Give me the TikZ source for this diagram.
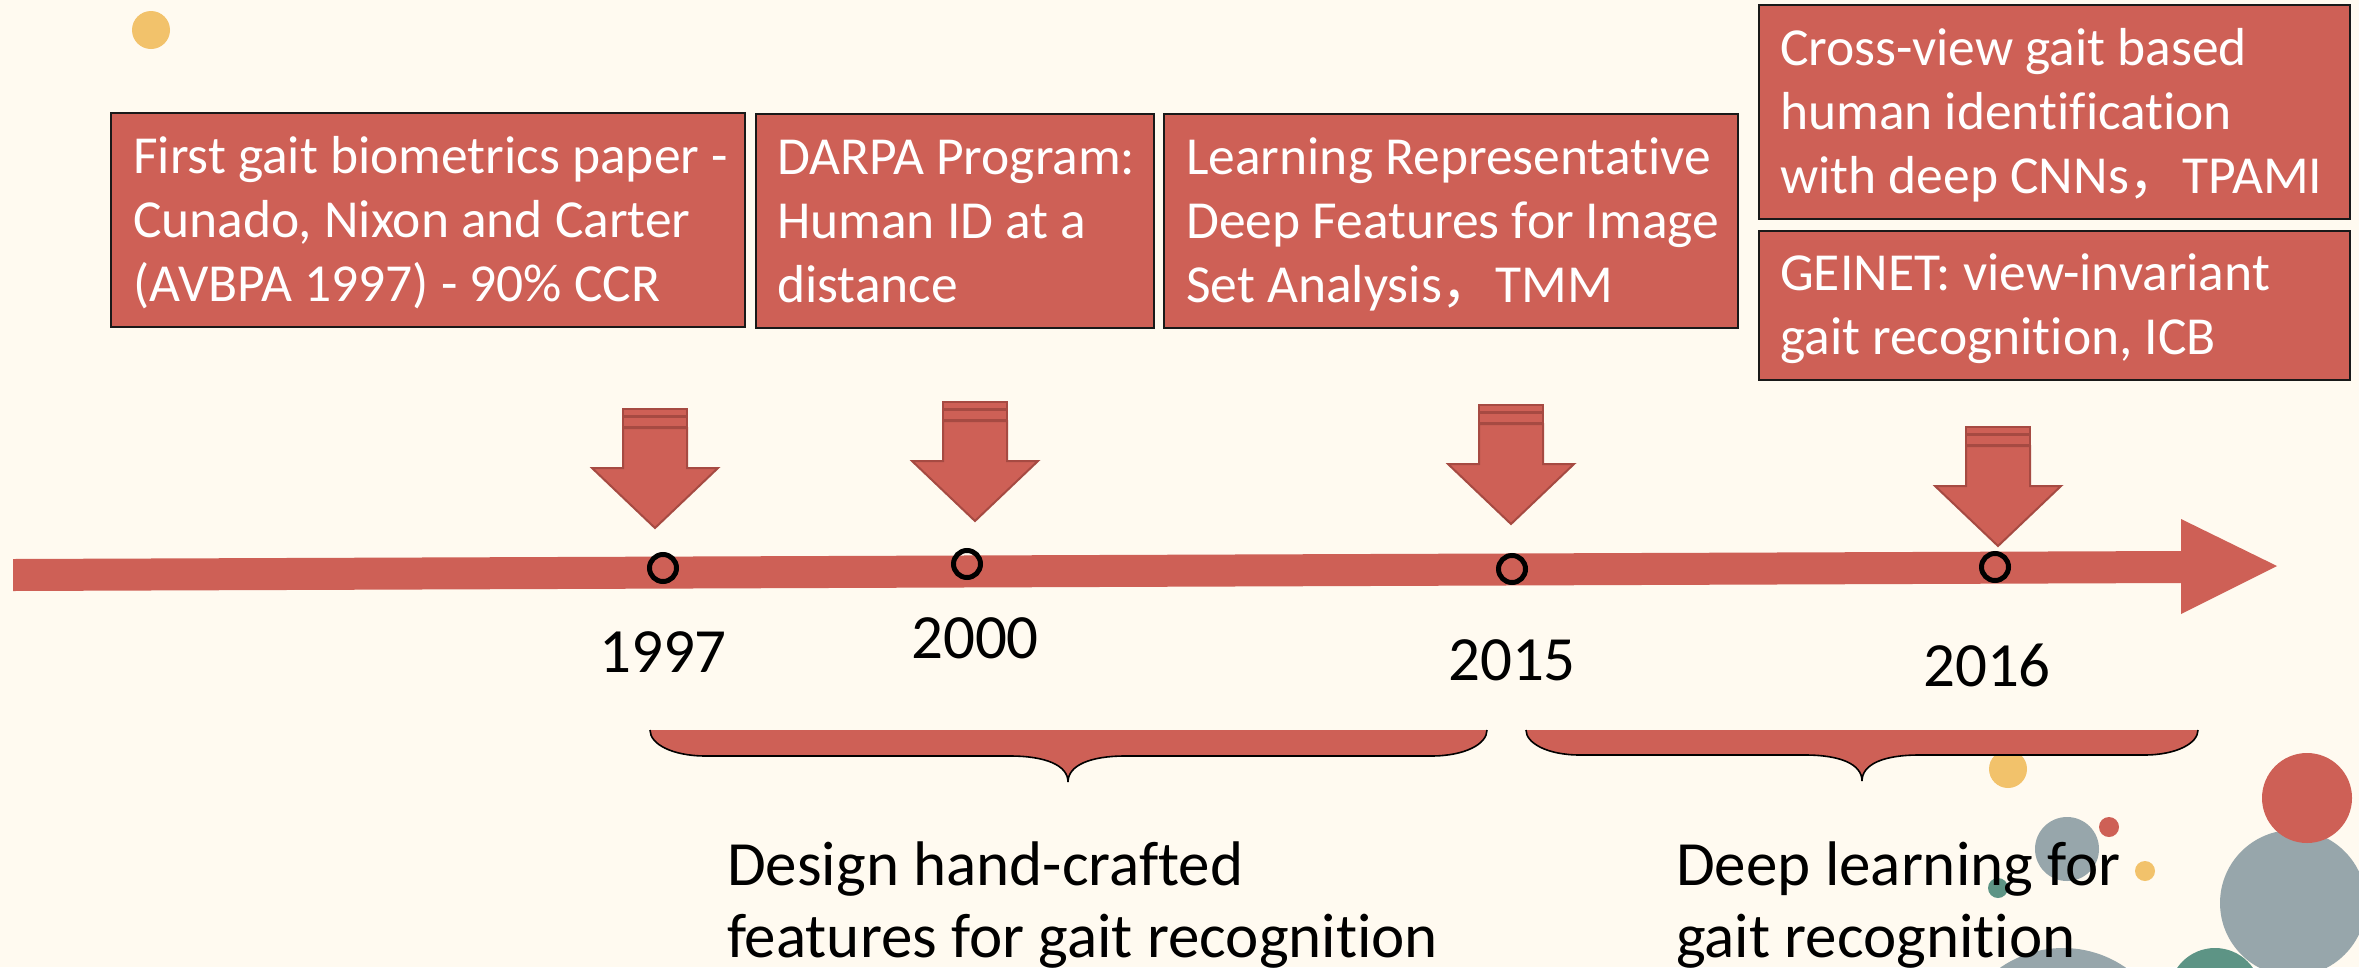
\documentclass[tikz,border=0pt]{standalone}
\usepackage{fontspec}
\setmainfont{Carlito}[Ligatures=NoCommon]
\newfontfamily\cjk{Noto Sans CJK SC}
\definecolor{paper}{RGB}{255,250,240}
\definecolor{tlred}{RGB}{206,96,86}
\definecolor{tledge}{RGB}{166,74,66}
\definecolor{dotyellow}{RGB}{242,194,107}
\definecolor{dotgray}{RGB}{151,166,171}
\definecolor{dotteal}{RGB}{93,148,133}
\begin{document}
\begin{tikzpicture}[x=1pt,y=-1pt,
  evbox/.style={draw=black!90, line width=2pt, fill=tlred, inner sep=0pt, outer sep=0pt, anchor=north west},
  boxtext/.style={text=white, inner sep=0pt, anchor=base west, font=\fontsize{53.5}{64}\selectfont},
  yearlabel/.style={text=black, inner sep=0pt, anchor=base, font=\fontsize{63}{72}\selectfont},
  phase/.style={text=black, inner sep=0pt, anchor=base west, font=\fontsize{63}{72}\selectfont},
  tick/.style={circle, draw=black, line width=5pt, minimum size=27pt, inner sep=0pt},
  stripe/.style={fill=tlred, draw=tledge, line width=2pt, line join=miter},
  evmark/.pic={
    \draw[stripe] (-32,0) rectangle (32,6.5);
    \draw[stripe] (-32,8) rectangle (32,17.5);
    \draw[stripe] (-32,19) -- (32,19) -- (32,59) -- (63,59) -- (0,119)
      -- (-63,59) -- (-32,59) -- cycle;
  },
  brace/.style={fill=tlred},
  braceline/.style={draw=black, line width=1.6pt}
]
% page and background
\useasboundingbox (0,0) rectangle (2359,967);
\fill[paper] (0,0) rectangle (2359,967);

\fill[dotyellow] (151,30) circle[radius=19];

% event boxes
\node[evbox, minimum width=634pt, minimum height=214pt] (b1) at (111,113) {};
\node[evbox, minimum width=398pt, minimum height=214pt] (b2) at (756,114) {};
\node[evbox, minimum width=574pt, minimum height=214pt] (b3) at (1164,114) {};
\node[evbox, minimum width=591pt, minimum height=214pt] (b4) at (1759,5) {};
\node[evbox, minimum width=591pt, minimum height=149pt] (b5) at (1759,231) {};

\node[boxtext] (t1) at ([shift={(22,60)}]b1.north west)
  {\vtop{\hbox{First gait biometrics paper -}\hbox{Cunado, Nixon and Carter}\hbox{(AVBPA 1997) - 90\% CCR}}};
\node[boxtext] (t2) at ([shift={(21,60)}]b2.north west)
  {\vtop{\hbox{DARPA Program:}\hbox{Human ID at a}\hbox{distance}}};
\node[boxtext] (t3) at ([shift={(22,60)}]b3.north west)
  {\vtop{\hbox{Learning Representative}\hbox{Deep Features for Image}\hbox{Set Analysis{\cjk ，}TMM}}};
\node[boxtext] (t4) at ([shift={(21,60)}]b4.north west)
  {\vtop{\hbox{Cross-view gait based}\hbox{human identification}\hbox{with deep CNNs{\cjk ，}TPAMI}}};
\node[boxtext] (t5) at ([shift={(21,59)}]b5.north west)
  {\vtop{\hbox{GEINET: view-invariant}\hbox{gait recognition, ICB}}};

% down arrows over the time line
\pic at (655,409) {evmark};
\pic at (975,402) {evmark};
\pic at (1511,405) {evmark};
\pic at (1998,427) {evmark};

% time line
\fill[tlred] (13,559) -- (2181,551) -- (2181,519) -- (2277,566)
  -- (2181,614) -- (2181,583) -- (13,591) -- cycle;

\node[tick] (m1997) at (663,568) {};
\node[tick] (m2000) at (967,564) {};
\node[tick] (m2015) at (1512,569) {};
\node[tick] (m2016) at (1995,567) {};

\node[yearlabel] (y1997) at (663,672) {1997};
\node[yearlabel] (y2000) at (975,658) {2000};
\node[yearlabel] (y2015) at (1512,680) {2015};
\node[yearlabel] (y2016) at (1987,686) {2016};

% decorative dots
\begin{scope}
  \clip (0,0) rectangle (2359,967);
  \fill[dotyellow] (2008,769) circle[radius=19];
  \fill[dotgray] (2293,903) circle[radius=73];
  \fill[tlred] (2307,798) circle[radius=45];
  \fill[dotgray] (2067,849) circle[radius=32];
  \fill[tlred] (2109,827) circle[radius=10];
  \fill[dotyellow] (2145,871) circle[radius=10];
  \fill[dotteal] (1998,888) circle[radius=10];
  \fill[dotteal] (2215,994) circle[radius=46];
  \fill[dotgray] (2063,1058) circle[radius=110];
\end{scope}

% braces grouping the periods
\fill[brace] (650,730) .. controls (650,744) and (672,756) .. (706,756)
  -- (1010,756) .. controls (1045,756) and (1068,765) .. (1068,782)
  .. controls (1068,765) and (1091,756) .. (1125,756)
  -- (1431,756) .. controls (1465,756) and (1487,744) .. (1487,730) -- cycle;
\draw[braceline] (650,730) .. controls (650,744) and (672,756) .. (706,756)
  -- (1010,756) .. controls (1045,756) and (1068,765) .. (1068,782)
  .. controls (1068,765) and (1091,756) .. (1125,756)
  -- (1431,756) .. controls (1465,756) and (1487,744) .. (1487,730);

\fill[brace] (1526,730) .. controls (1526,743) and (1547,755) .. (1580,755)
  -- (1805,755) .. controls (1840,755) and (1862,764) .. (1862,781)
  .. controls (1862,764) and (1884,755) .. (1919,755)
  -- (2144,755) .. controls (2177,755) and (2198,743) .. (2198,730) -- cycle;
\draw[braceline] (1526,730) .. controls (1526,743) and (1547,755) .. (1580,755)
  -- (1805,755) .. controls (1840,755) and (1862,764) .. (1862,781)
  .. controls (1862,764) and (1884,755) .. (1919,755)
  -- (2144,755) .. controls (2177,755) and (2198,743) .. (2198,730);

\node[phase] (p1) at (727,885)
  {\vtop{\hbox{Design hand-crafted}\hbox{features for gait recognition}}};
\node[phase] (p2) at (1676,885)
  {\vtop{\hbox{Deep learning for}\hbox{gait recognition}}};
\end{tikzpicture}
\end{document}
